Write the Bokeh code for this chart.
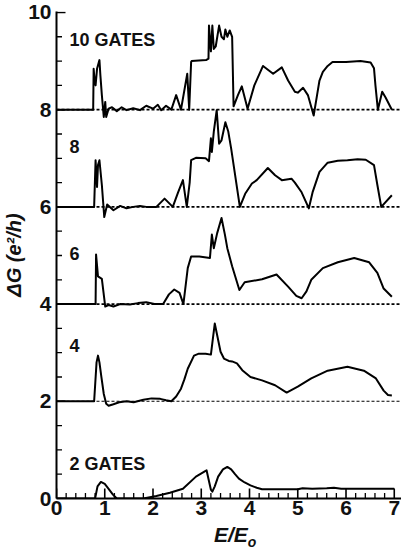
import math
from bokeh.plotting import figure
from bokeh.models import Range1d, Span, SingleIntervalTicker, Div
from bokeh.layouts import column
from bokeh.core.properties import value
from bokeh.embed import file_html
from bokeh.resources import INLINE

# ---- data (plotted values, curves offset by 2 e^2/h each) ----
baseline_offsets = [2, 4, 6, 8]

gates2_x = [0, 0.8, 0.85, 0.92, 1.0, 1.08, 1.17, 1.25, 1.8, 2.07, 2.35, 2.62, 2.89, 3.09, 3.11,
            3.15, 3.2, 3.23, 3.28, 3.35, 3.45, 3.54, 3.62, 3.7, 3.78, 3.9, 4.02, 4.15, 4.26,
            5.0, 5.1, 5.3, 5.6, 5.75, 5.9, 7.0]
gates2_y = [0, 0, 0.25, 0.34, 0.3, 0.2, 0.08, 0, 0, 0.05, 0.12, 0.2, 0.45, 0.57, 0.58,
            0.4, 0.18, 0.14, 0.25, 0.45, 0.6, 0.65, 0.6, 0.5, 0.41, 0.33, 0.27, 0.22, 0.19,
            0.19, 0.21, 0.2, 0.21, 0.22, 0.2, 0.2]

gates4_x = [0, 0.78, 0.83, 0.86, 0.89, 0.93, 0.98, 1.03, 1.08, 1.18, 1.3, 1.45, 1.6, 1.8, 1.97,
            2.15, 2.27, 2.38, 2.48, 2.58, 2.65, 2.72, 2.85, 2.95, 3.09, 3.2, 3.23, 3.28, 3.33,
            3.4, 3.47, 3.57, 3.64, 3.74, 3.85, 4.02, 4.26, 4.53, 4.77, 5.0, 5.28, 5.62, 6.03,
            6.37, 6.62, 6.78, 6.87, 6.95]
gates4_y = [2, 2, 2.8, 2.94, 2.8, 2.5, 2.15, 1.95, 1.91, 1.94, 1.98, 2.0, 1.98, 2.03, 2.06,
            2.05, 2.02, 2.0, 2.1, 2.26, 2.45, 2.67, 2.94, 2.98, 2.98, 2.96, 3.2, 3.6, 3.36,
            3.02, 2.88, 2.83, 2.82, 2.78, 2.64, 2.5, 2.43, 2.33, 2.18, 2.3, 2.47, 2.63, 2.71,
            2.63, 2.47, 2.22, 2.13, 2.12]

gates6_x = [0, 0.81, 0.82, 0.86, 0.94, 1.01, 1.08, 1.18, 1.32, 1.52, 1.69, 1.86, 2.03, 2.21,
            2.33, 2.44, 2.55, 2.63, 2.72, 2.79, 2.96, 3.18, 3.22, 3.26, 3.33, 3.42, 3.49, 3.54,
            3.64, 3.79, 3.9, 4.26, 4.56, 4.8, 4.97, 5.08, 5.18, 5.28, 5.52, 5.83, 6.17, 6.48,
            6.65, 6.78, 6.95]
gates6_y = [4, 4, 5.02, 4.57, 4.52, 3.95, 3.98, 3.95, 4.0, 3.99, 4.02, 4.04, 4.0, 4.0,
            4.2, 4.3, 4.23, 4.0, 4.74, 4.98, 4.98, 4.95, 5.43, 5.15, 5.46, 5.77, 5.43, 5.15,
            4.78, 4.29, 4.45, 4.51, 4.61, 4.36, 4.17, 4.12, 4.26, 4.5, 4.74, 4.86, 4.95, 4.86,
            4.64, 4.32, 4.15]

gates8_x = [0, 0.78, 0.81, 0.84, 0.86, 0.89, 0.94, 0.99, 1.05, 1.18, 1.32, 1.45, 1.59, 1.73,
            1.86, 2.07, 2.24, 2.41, 2.52, 2.62, 2.7, 2.76, 2.79, 2.89, 3.09, 3.16, 3.2, 3.22,
            3.26, 3.32, 3.37, 3.42, 3.5, 3.56, 3.62, 3.8, 3.91, 4.05, 4.15, 4.38, 4.53, 4.67,
            4.87, 4.94, 5.08, 5.23, 5.31, 5.45, 5.62, 5.83, 6.03, 6.24, 6.41, 6.58, 6.65, 6.73,
            6.95]
gates8_y = [6, 6, 6.96, 6.41, 6.86, 6.96, 6.45, 5.79, 6.05, 5.93, 6.02, 5.97, 6.0, 6.02,
            6.0, 6.0, 6.17, 6.0, 6.3, 6.55, 6.0, 6.5, 6.96, 7.01, 7.0, 6.94, 7.41, 7.13,
            7.55, 7.99, 7.3, 7.37, 7.74, 7.55, 7.2, 6.0, 6.27, 6.48, 6.55, 6.8, 6.65, 6.55,
            6.58, 6.5, 6.3, 5.97, 6.31, 6.72, 6.91, 6.95, 6.96, 6.98, 6.97, 6.86, 6.45, 6.0,
            6.24]

gates10_x = [0, 0.76, 0.77, 0.79, 0.81, 0.84, 0.89, 0.91, 0.94, 0.98, 1.01, 1.03, 1.08, 1.15,
             1.25, 1.35, 1.45, 1.59, 1.73, 1.86, 2.0, 2.1, 2.17, 2.27, 2.38, 2.48, 2.58, 2.71,
             2.75, 2.79, 2.8, 3.1, 3.15, 3.16, 3.2, 3.23, 3.26, 3.3, 3.37, 3.42, 3.47, 3.5,
             3.54, 3.59, 3.64, 3.67, 3.76, 3.84, 3.96, 4.1, 4.28, 4.49, 4.67, 4.8, 4.94, 5.0,
             5.11, 5.21, 5.33, 5.4, 5.45, 5.52, 5.62, 5.72, 6.0, 6.3, 6.51, 6.58, 6.61, 6.66,
             6.75, 6.82, 6.95]
gates10_y = [8, 8, 8.84, 8.6, 8.5, 8.84, 9.02, 8.7, 8.3, 7.85, 8.16, 7.85, 8.02, 8.05,
             7.97, 8.05, 7.99, 8.03, 7.99, 8.08, 8.02, 8.1, 7.99, 8.08, 8.0, 8.3, 8.0, 8.74,
             8.0, 8.98, 9.0, 9.02, 9.05, 9.73, 9.2, 9.73, 9.25, 9.3, 9.73, 9.5, 9.45, 9.65,
             9.5, 9.63, 9.5, 8.07, 8.3, 8.48, 8.02, 8.5, 8.9, 8.74, 8.87, 8.6, 8.37, 8.35,
             8.45, 8.3, 7.88, 8.3, 8.6, 8.78, 8.9, 8.98, 8.98, 9.0, 8.97, 8.85, 8.5, 8.0,
             8.37, 8.25, 8.0]

label_text = ["10 GATES", "8", "6", "4", "2 GATES"]
label_x = [0.27, 0.27, 0.27, 0.27, 0.27]
label_y = [9.43, 7.24, 5.04, 3.15, 0.72]

# tick positions
x_major_ticks = [0, 1, 2, 3, 4, 5, 6, 7]
x_minor_ticks = [round(i * 0.2, 1) for i in range(1, 37) if i % 5 != 0]
y_major_ticks = [0, 2, 4, 6, 8, 10]
y_minor_ticks = [round(i * 0.5, 1) for i in range(1, 20) if i % 4 != 0]

FONT = "Liberation Sans"
INK = "#111111"

p = figure(width=401, height=518, x_range=Range1d(0, 7.15), y_range=Range1d(0, 10.02),
           output_backend="svg", toolbar_location=None,
           min_border_left=48, min_border_right=0, min_border_top=11, min_border_bottom=20)
p.outline_line_color = None
p.grid.visible = False
p.background_fill_color = "white"

# dashed baselines
for off in baseline_offsets:
    p.add_layout(Span(location=off, dimension="width", line_color="black",
                      line_width=1.8 if off > 2 else 1.1, line_dash="3 2"))

for xs, ys in [(gates2_x, gates2_y), (gates4_x, gates4_y), (gates6_x, gates6_y),
               (gates8_x, gates8_y), (gates10_x, gates10_y)]:
    p.line(xs, ys, line_color="black", line_width=2, line_join="round")

# inward ticks (half of each dash is clipped away by the frame edge)
p.scatter(x=x_major_ticks, y=[0] * len(x_major_ticks), marker="dash", size=20,
          angle=math.pi / 2, line_color="black", line_width=1.6)
p.scatter(x=x_minor_ticks, y=[0] * len(x_minor_ticks), marker="dash", size=11,
          angle=math.pi / 2, line_color="black", line_width=1.3)
p.scatter(x=[0] * len(y_major_ticks), y=y_major_ticks, marker="dash", size=18,
          line_color="black", line_width=1.6)
p.scatter(x=[0] * len(y_minor_ticks), y=y_minor_ticks, marker="dash", size=11,
          line_color="black", line_width=1.3)

p.text(x=label_x, y=label_y, text=label_text, text_font=value(FONT), text_font_style="bold",
       text_font_size="18px", text_baseline="middle", text_align="left", text_color=INK)

# axes
p.xaxis.ticker = SingleIntervalTicker(interval=1, num_minor_ticks=0)
p.yaxis.ticker = SingleIntervalTicker(interval=2, num_minor_ticks=0)
for ax in (p.xaxis, p.yaxis):
    ax.axis_line_width = 2
    ax.axis_line_color = "black"
    ax.major_tick_in = 0
    ax.major_tick_out = 0
    ax.minor_tick_in = 0
    ax.minor_tick_out = 0
    ax.major_label_text_font = FONT
    ax.major_label_text_font_style = "bold"
    ax.major_label_text_font_size = "21px"
    ax.major_label_text_color = INK
p.yaxis.major_label_standoff = 5
p.xaxis.major_label_standoff = 2
p.yaxis.axis_label = "\u0394G (e\u00b2/h)"
p.yaxis.axis_label_text_font = FONT
p.yaxis.axis_label_text_font_style = "bold italic"
p.yaxis.axis_label_text_color = INK
p.yaxis.axis_label_text_font_size = "20px"
p.yaxis.axis_label_standoff = 0

xlabel = Div(
    text=('<div style="position:relative;left:214px;top:7px;white-space:nowrap;'
          'font-family:\'Liberation Sans\';font-weight:bold;font-style:italic;'
          'font-size:21px;line-height:20px;color:#111111;">E/E'
          '<span style="font-size:14px;position:relative;top:5px;">o</span></div>'),
    width=401, height=20, margin=(0, 0, 0, 0))

layout = column(p, xlabel, spacing=0)
open("out.html", "w").write(file_html(layout, INLINE))
